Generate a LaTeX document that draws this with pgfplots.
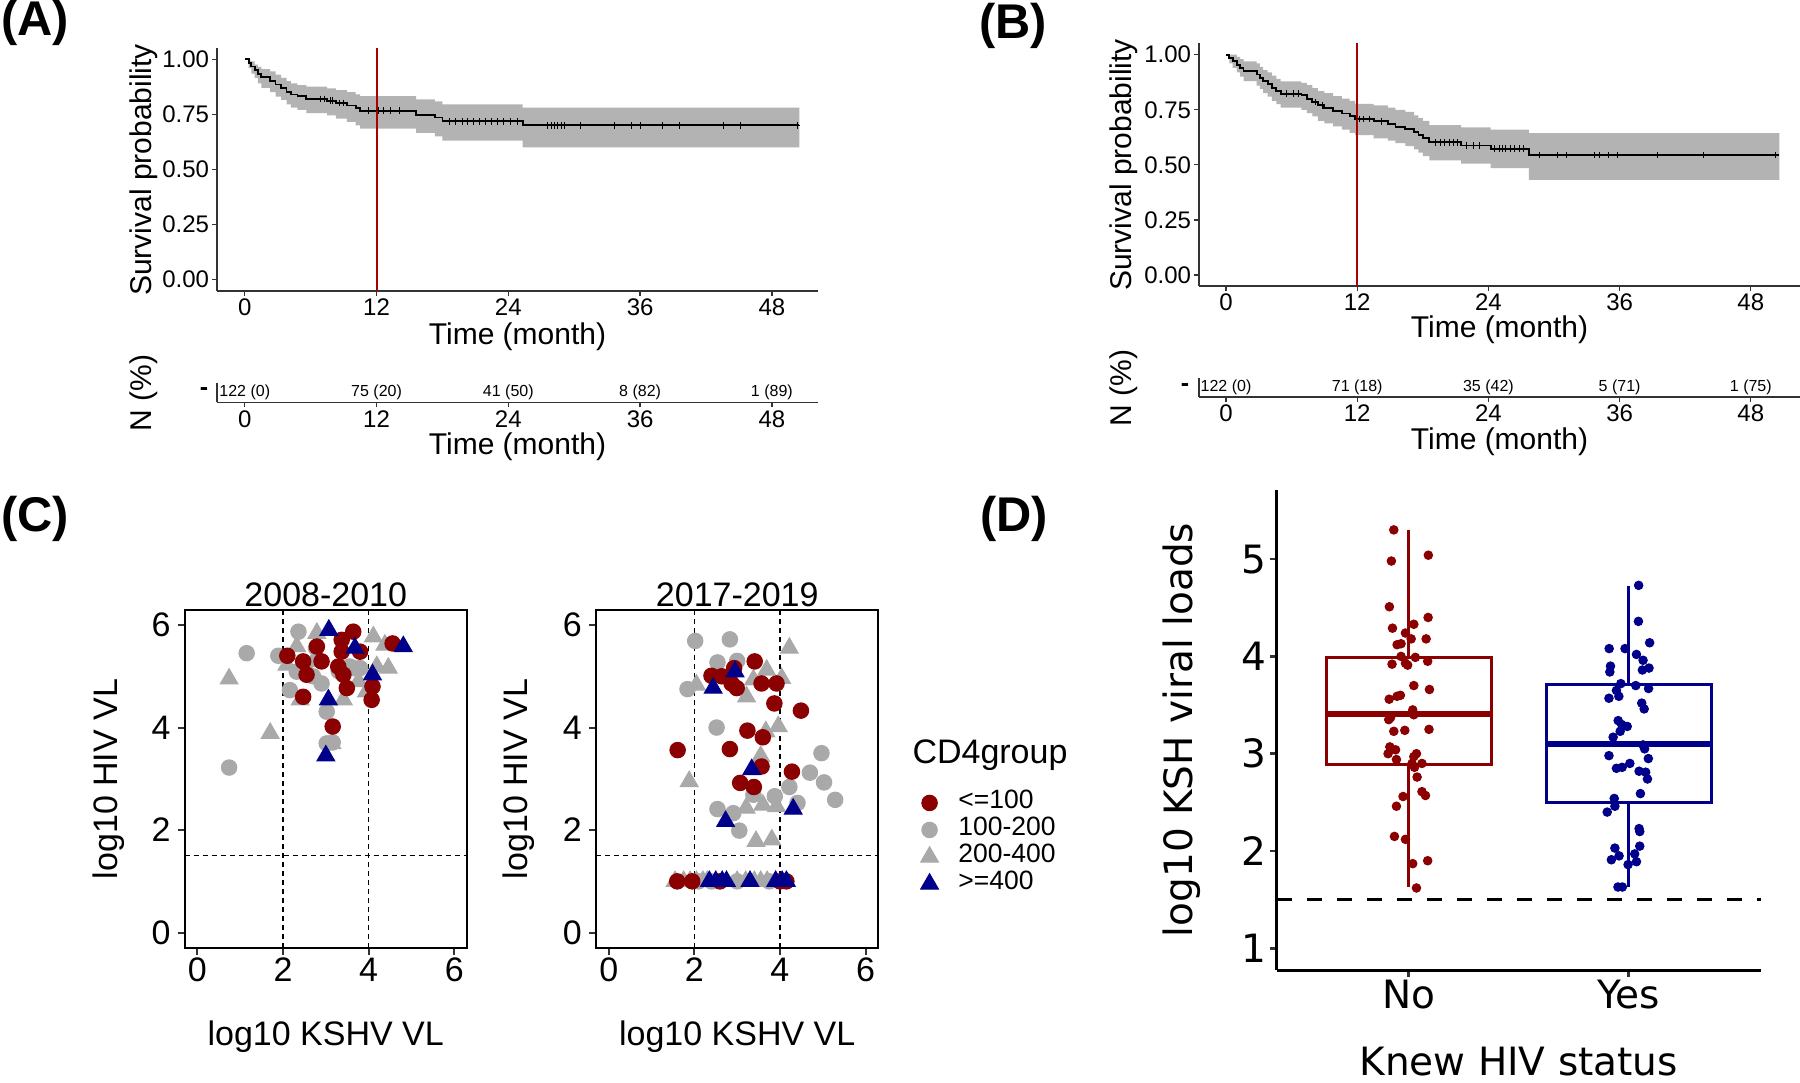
\documentclass[border=0pt]{standalone}
\usepackage{pgfplots}
\pgfplotsset{compat=1.18}
\usepgfplotslibrary{statistics}
\usepackage{fontspec}
\setmainfont{Liberation Sans}
\newfontfamily\dejavu{DejaVu Sans}
\definecolor{kmred}{HTML}{AA0000}
\definecolor{band}{HTML}{B3B3B3}
\definecolor{cred}{HTML}{8B0000}
\definecolor{cgray}{HTML}{A9A9A9}
\definecolor{cblue}{HTML}{00008B}
\definecolor{axgray}{HTML}{333333}
\newcommand{\fs}[1]{\fontsize{#1}{#1}\selectfont}
\pgfplotsset{
  kmaxis/.style={scale only axis, width=240.4pt, height=97.2pt,
    axis lines=left, axis line style={-, axgray, line width=0.5pt},
    tick style={axgray, line width=0.5pt}, tick align=outside, major tick length=2pt,
    xtick={0,12,24,36,48}, xticklabels={0,12,24,36,48},
    ytick={0,0.25,0.5,0.75,1}, yticklabels={0.00,0.25,0.50,0.75,1.00},
    ticklabel style={font=\fs{9.6}, inner sep=1pt}, clip=false},
  riskaxis/.style={scale only axis, width=240.4pt, height=7.7pt,
    axis lines=left, axis line style={-, axgray, line width=0.5pt},
    tick style={axgray, line width=0.5pt}, tick align=outside, major tick length=2pt,
    xtick={0,12,24,36,48}, xticklabels={0,12,24,36,48}, ytick=\empty,
    ymin=0, ymax=1,
    ticklabel style={font=\fs{9.6}, inner sep=1pt}, clip=false},
  cfacet/.style={scale only axis, width=113pt, height=135.36pt,
    xmin=-0.3, xmax=6.3, ymin=-0.3, ymax=6.3,
    axis line style={line width=0.8pt},
    xtick={0,2,4,6}, xticklabels={0,2,4,6}, ytick={0,2,4,6}, yticklabels={0,2,4,6},
    xtick pos=bottom, ytick pos=left,
    tick style={axgray, line width=0.8pt}, tick align=outside, major tick length=2.8pt,
    xticklabel style={font=\fs{13.6}, inner sep=1pt},
    yticklabel style={font=\fs{13.6}, inner sep=2.6pt}},
  pr/.style={only marks, mark=*, color=cred, mark size=3.1pt, mark options={draw=none, fill=cred}},
  pgc/.style={only marks, mark=*, color=cgray, mark size=3.1pt, mark options={draw=none, fill=cgray}},
  pgt/.style={only marks, mark=triangle*, color=cgray, mark size=4.1pt, mark options={draw=none, fill=cgray}},
  pbt/.style={only marks, mark=triangle*, color=cblue, mark size=4.1pt, mark options={draw=none, fill=cblue}},
}
\begin{document}
\begin{tikzpicture}

% ================= Panel A =================
\node[font=\fs{19.5}\bfseries, inner sep=0pt] at (14pt,-9.2pt) {(A)};
\begin{axis}[kmaxis, at={(86.8pt,-116.4pt)}, anchor=south west,
  xmin=-2.53, xmax=52.2, ymin=-0.053, ymax=1.051]
\addplot[fill=band, draw=none] coordinates {
(0,1.0) (0.5,1.0) (0.5,0.99) (0.9,0.99) (0.9,0.975) (1.2,0.975) (1.2,0.965) (1.5,0.965) (1.5,0.955) (2.3,0.955) (2.3,0.945) (2.8,0.945) (2.8,0.93) (3.3,0.93) (3.3,0.915) (3.8,0.915) (3.8,0.90) (4.2,0.90) (4.2,0.89) (4.8,0.89) (4.8,0.882) (5.6,0.882) (5.6,0.875) (7.5,0.875) (7.5,0.868) (8.3,0.868) (8.3,0.86) (9.3,0.86) (9.3,0.85) (10.1,0.85) (10.1,0.84) (10.5,0.84) (10.5,0.832) (15.6,0.832) (15.6,0.818) (17.3,0.818) (17.3,0.808) (18,0.808) (18,0.795) (25.3,0.795) (25.3,0.78) (50.5,0.78)
(50.5,0.60) (25.3,0.60) (25.3,0.63) (18,0.63) (18,0.65) (17.3,0.65) (17.3,0.665) (15.6,0.665) (15.6,0.685) (10.5,0.685) (10.5,0.70) (10.1,0.70) (10.1,0.715) (9.3,0.715) (9.3,0.73) (8.3,0.73) (8.3,0.745) (7.5,0.745) (7.5,0.755) (5.6,0.755) (5.6,0.77) (4.8,0.77) (4.8,0.78) (4.2,0.78) (4.2,0.795) (3.8,0.795) (3.8,0.815) (3.3,0.815) (3.3,0.83) (2.8,0.83) (2.8,0.85) (2.3,0.85) (2.3,0.87) (1.5,0.87) (1.5,0.89) (1.2,0.89) (1.2,0.915) (0.9,0.915) (0.9,0.935) (0.6,0.935) (0.6,0.96) (0.35,0.96) (0.35,1.0) (0,1.0)} -- cycle;
\addplot[const plot, black, line width=0.75pt] coordinates {
(0,1.0) (0.35,0.984) (0.6,0.967) (0.9,0.951) (1.2,0.934) (1.5,0.918) (2.3,0.90) (2.8,0.885) (3.3,0.869) (3.8,0.852) (4.2,0.84) (4.8,0.832) (5.6,0.82) (7.5,0.812) (8.3,0.80) (9.3,0.79) (10.1,0.778) (10.5,0.766) (15.6,0.748) (17.3,0.735) (18,0.718) (25.3,0.70) (50.5,0.70)};
\addplot[only marks, mark=+, mark size=1.3pt, black, line width=0.4pt] coordinates {
(6.9,0.82) (7.3,0.82) (7.8,0.812) (8.0,0.812) (8.6,0.80) (9.0,0.80)
(11.3,0.766) (12.2,0.766) (12.6,0.766) (13.3,0.766) (14.1,0.766)
(18.6,0.718) (19.2,0.718) (19.8,0.718) (20.3,0.718) (20.8,0.718) (21.4,0.718) (21.9,0.718) (22.5,0.718) (23.0,0.718) (23.6,0.718) (24.2,0.718) (24.8,0.718)
(27.6,0.70) (27.9,0.70) (28.2,0.70) (28.5,0.70) (28.8,0.70) (29.1,0.70) (30.6,0.70) (33.7,0.70) (35.2,0.70) (36.0,0.70) (38.0,0.70) (39.6,0.70) (43.6,0.70) (45.1,0.70) (50.3,0.70)};
\addplot[kmred, line width=0.8pt] coordinates {(12,-0.053) (12,1.051)};
\end{axis}
\node[font=\fs{12}] at (207pt,-134.8pt) {Time (month)};
\node[font=\fs{12}, rotate=90] at (57.6pt,-68pt) {Survival probability};
\begin{axis}[riskaxis, at={(86.8pt,-160.9pt)}, anchor=south west,
  xmin=-2.53, xmax=52.2]
\addplot[draw=none] coordinates {(0,0.5) (48,0.5)};
\node[font=\fs{6.4}] at (axis cs:0,0.52) {122 (0)};
\node[font=\fs{6.4}] at (axis cs:12,0.52) {75 (20)};
\node[font=\fs{6.4}] at (axis cs:24,0.52) {41 (50)};
\node[font=\fs{6.4}] at (axis cs:36,0.52) {8 (82)};
\node[font=\fs{6.4}] at (axis cs:48,0.52) {1 (89)};
\end{axis}
\node[font=\fs{10}\bfseries] at (81.6pt,-156.6pt) {-};
\node[font=\fs{12}] at (207pt,-178.8pt) {Time (month)};
\node[font=\fs{12}, rotate=90] at (57.6pt,-157.2pt) {N (\%)};

% ================= Panel B =================
\node[font=\fs{19.5}\bfseries, inner sep=0pt] at (405.2pt,-10.4pt) {(B)};
\begin{axis}[kmaxis, at={(479.6pt,-114.4pt)}, anchor=south west,
  xmin=-2.47, xmax=52.5, ymin=-0.05, ymax=1.053]
\addplot[fill=band, draw=none] coordinates {
(0,1.0) (1.0,1.0) (1.0,0.99) (1.3,0.99) (1.3,0.98) (1.6,0.98) (1.6,0.97) (2.8,0.97) (2.8,0.96) (3.1,0.96) (3.1,0.945) (3.4,0.945) (3.4,0.93) (3.8,0.93) (3.8,0.92) (4.2,0.92) (4.2,0.905) (4.6,0.905) (4.6,0.89) (5.0,0.89) (5.0,0.879) (6.9,0.879) (6.9,0.872) (7.4,0.872) (7.4,0.862) (7.9,0.862) (7.9,0.848) (8.4,0.848) (8.4,0.835) (9.0,0.835) (9.0,0.825) (9.8,0.825) (9.8,0.812) (10.6,0.812) (10.6,0.80) (11.3,0.80) (11.3,0.79) (11.8,0.79) (11.8,0.777) (13.5,0.777) (13.5,0.77) (14.8,0.77) (14.8,0.76) (15.5,0.76) (15.5,0.75) (16.4,0.75) (16.4,0.74) (17.2,0.74) (17.2,0.725) (17.6,0.725) (17.6,0.712) (18.0,0.712) (18.0,0.70) (18.6,0.70) (18.6,0.68) (21.5,0.68) (21.5,0.67) (24.2,0.67) (24.2,0.66) (27.7,0.66) (27.7,0.644) (50.6,0.644)
(50.6,0.432) (27.7,0.432) (27.7,0.485) (24.2,0.485) (24.2,0.505) (21.5,0.505) (21.5,0.52) (18.6,0.52) (18.6,0.54) (18.0,0.54) (18.0,0.555) (17.6,0.555) (17.6,0.57) (17.2,0.57) (17.2,0.585) (16.4,0.585) (16.4,0.598) (15.5,0.598) (15.5,0.61) (14.8,0.61) (14.8,0.62) (13.5,0.62) (13.5,0.635) (11.8,0.635) (11.8,0.645) (11.3,0.645) (11.3,0.66) (10.6,0.66) (10.6,0.675) (9.8,0.675) (9.8,0.688) (9.0,0.688) (9.0,0.70) (8.4,0.70) (8.4,0.72) (7.9,0.72) (7.9,0.735) (7.4,0.735) (7.4,0.75) (6.9,0.75) (6.9,0.76) (5.0,0.76) (5.0,0.775) (4.6,0.775) (4.6,0.79) (4.2,0.79) (4.2,0.81) (3.8,0.81) (3.8,0.825) (3.4,0.825) (3.4,0.845) (3.1,0.845) (3.1,0.86) (2.8,0.86) (2.8,0.88) (1.6,0.88) (1.6,0.90) (1.3,0.90) (1.3,0.92) (1.0,0.92) (1.0,0.94) (0.6,0.94) (0.6,0.96) (0.3,0.96) (0.3,1.0) (0,1.0)} -- cycle;
\addplot[const plot, black, line width=0.75pt] coordinates {
(0,1.0) (0.3,0.985) (0.6,0.97) (1.0,0.955) (1.3,0.94) (1.6,0.924) (2.8,0.91) (3.1,0.895) (3.4,0.88) (3.8,0.865) (4.2,0.85) (4.6,0.835) (5.0,0.823) (6.9,0.815) (7.4,0.80) (7.9,0.785) (8.4,0.77) (9.0,0.758) (9.8,0.745) (10.6,0.733) (11.3,0.72) (11.8,0.709) (13.5,0.697) (14.8,0.686) (15.5,0.673) (16.4,0.663) (17.2,0.648) (17.6,0.635) (18.0,0.62) (18.6,0.602) (21.5,0.588) (24.2,0.573) (27.7,0.545) (50.6,0.545)};
\addplot[only marks, mark=+, mark size=1.3pt, black, line width=0.4pt] coordinates {
(5.5,0.823) (6.2,0.823) (6.6,0.823) (8.2,0.785) (8.8,0.77)
(12.2,0.709) (12.6,0.709) (13.1,0.709) (14.2,0.697)
(19.2,0.602) (19.6,0.602) (20.0,0.602) (20.4,0.602) (20.8,0.602) (21.2,0.602)
(22.0,0.588) (22.6,0.588) (23.2,0.588)
(24.6,0.573) (25.0,0.573) (25.3,0.573) (25.6,0.573) (26.0,0.573) (26.4,0.573) (26.8,0.573) (27.2,0.573)
(28.7,0.545) (30.3,0.545) (31.1,0.545) (33.7,0.545) (34.2,0.545) (35.0,0.545) (35.8,0.545) (39.5,0.545) (43.7,0.545) (50.3,0.545)};
\addplot[kmred, line width=0.8pt] coordinates {(12,-0.05) (12,1.053)};
\end{axis}
\node[font=\fs{12}] at (599.8pt,-132pt) {Time (month)};
\node[font=\fs{12}, rotate=90] at (449.6pt,-66pt) {Survival probability};
\begin{axis}[riskaxis, at={(479.6pt,-158.8pt)}, anchor=south west,
  xmin=-2.47, xmax=52.5]
\addplot[draw=none] coordinates {(0,0.5) (48,0.5)};
\node[font=\fs{6.4}] at (axis cs:0,0.52) {122 (0)};
\node[font=\fs{6.4}] at (axis cs:12,0.52) {71 (18)};
\node[font=\fs{6.4}] at (axis cs:24,0.52) {35 (42)};
\node[font=\fs{6.4}] at (axis cs:36,0.52) {5 (71)};
\node[font=\fs{6.4}] at (axis cs:48,0.52) {1 (75)};
\end{axis}
\node[font=\fs{10}\bfseries] at (474pt,-155pt) {-};
\node[font=\fs{12}] at (599.8pt,-176.8pt) {Time (month)};
\node[font=\fs{12}, rotate=90] at (449.6pt,-155.2pt) {N (\%)};

% ================= Panel C =================
\node[font=\fs{19.5}\bfseries, inner sep=0pt] at (14pt,-207.6pt) {(C)};
\begin{axis}[cfacet, at={(73.84pt,-379.2pt)}, anchor=south west]
\addplot[black, line width=0.5pt, dash pattern=on 2pt off 1.6pt] coordinates {(2,-0.3) (2,6.3)};
\addplot[black, line width=0.5pt, dash pattern=on 2pt off 1.6pt] coordinates {(4,-0.3) (4,6.3)};
\addplot[black, line width=0.5pt, dash pattern=on 2pt off 1.6pt] coordinates {(-0.3,1.5) (6.3,1.5)};
\addplot[pgt] coordinates {(0.74,4.95) (1.70,3.89) (2.09,5.22) (2.40,4.54) (2.79,5.84) (2.32,5.58) (2.71,5.29) (2.55,5.16) (3.41,4.54) (3.76,4.90) (3.95,4.70) (4.11,5.77) (4.38,5.61) (4.46,5.16) (4.19,5.19) (3.14,3.69)};
\addplot[pgc] coordinates {(1.15,5.45) (0.74,3.22) (2.36,5.87) (1.89,5.40) (2.16,4.73) (2.90,4.86) (3.02,4.31) (3.02,3.69) (3.16,3.71) (2.77,5.55) (3.64,5.16) (3.80,5.16) (3.56,5.19) (2.32,5.09) (2.70,5.00) (3.30,5.10)};
\addplot[pr] coordinates {(2.10,5.40) (2.47,5.29) (2.55,5.03) (2.79,5.58) (2.90,5.29) (3.29,5.19) (3.37,5.71) (3.64,5.87) (3.49,4.77) (3.16,4.02) (4.09,4.80) (4.07,4.54) (4.56,5.64) (3.37,5.48) (3.41,5.03) (3.80,5.48) (2.47,4.60)};
\addplot[pbt] coordinates {(3.07,5.90) (3.68,5.55) (4.81,5.58) (4.09,5.03) (3.06,4.54) (3.00,3.45)};
\end{axis}
\node[font=\fs{13.6}] at (130.3pt,-238pt) {2008-2010};
\node[font=\fs{13.6}, rotate=90] at (43.6pt,-311.6pt) {log10 HIV VL};
\node[font=\fs{13.6}] at (130.3pt,-414.8pt) {log10 KSHV VL};

\begin{axis}[cfacet, at={(238.36pt,-379.2pt)}, anchor=south west,
  legend cell align=left,
  legend style={draw=none, fill=none, at={(1.148,0.47)}, anchor=north west,
    font=\fs{10.6}, inner sep=0pt, row sep=0pt,
    /tikz/every odd column/.append style={column sep=8pt},
    nodes={inner sep=0pt, text height=7.8pt, text depth=3pt}},
  legend image code/.code={\draw[#1] plot coordinates {(0pt,0pt)};}]
\addlegendimage{pr}\addlegendentry{<=100}
\addlegendimage{pgc}\addlegendentry{100-200}
\addlegendimage{pgt}\addlegendentry{200-400}
\addlegendimage{pbt}\addlegendentry{>=400}
\addplot[black, line width=0.5pt, dash pattern=on 2pt off 1.6pt, forget plot] coordinates {(2,-0.3) (2,6.3)};
\addplot[black, line width=0.5pt, dash pattern=on 2pt off 1.6pt, forget plot] coordinates {(4,-0.3) (4,6.3)};
\addplot[black, line width=0.5pt, dash pattern=on 2pt off 1.6pt, forget plot] coordinates {(-0.3,1.5) (6.3,1.5)};
\addplot[pgt, forget plot] coordinates {(4.22,5.55) (3.69,5.12) (4.04,4.96) (3.38,4.93) (3.22,4.60) (2.05,4.83) (3.67,3.92) (3.96,4.02) (3.55,3.44) (1.88,2.95) (3.21,2.43) (3.60,2.49) (3.92,2.46) (3.44,1.78) (3.81,1.81)
(1.55,1) (1.75,1) (1.9,1) (2.05,1) (2.2,1) (2.3,1) (3.0,1) (3.2,1) (3.4,1) (3.55,1) (3.7,1) (3.9,1)};
\addplot[pgc, forget plot] coordinates {(2.02,5.69) (2.83,5.72) (2.54,5.27) (3.00,5.30) (1.84,4.75) (2.52,4.00) (4.97,3.50) (4.70,3.12) (5.03,2.93) (4.22,2.84) (3.38,2.69) (3.88,2.66) (5.29,2.59) (4.41,2.53) (2.54,2.41) (2.91,2.33) (3.05,1.99)
(2.1,1) (2.4,1) (3.0,1) (3.75,1)};
\addplot[pr, forget plot] coordinates {(3.41,5.29) (2.40,5.01) (2.64,5.00) (2.93,5.16) (2.87,4.86) (2.99,4.77) (3.57,4.86) (3.92,4.86) (3.87,4.47) (4.49,4.33) (3.24,3.94) (3.60,3.81) (1.61,3.56) (2.83,3.58) (4.28,3.14) (3.57,3.24) (3.07,2.92) (3.39,2.84)
(1.6,1) (1.95,1) (2.6,1) (4.0,1) (4.15,1)};
\addplot[pbt, forget plot] coordinates {(2.44,4.77) (2.95,5.09) (3.34,3.18) (2.73,2.17) (4.31,2.41)
(2.35,1) (2.5,1) (2.65,1) (2.75,1) (3.3,1) (3.9,1) (4.05,1) (4.15,1)};
\end{axis}
\node[font=\fs{13.6}] at (294.9pt,-238pt) {2017-2019};
\node[font=\fs{13.6}, rotate=90] at (207.6pt,-311.6pt) {log10 HIV VL};
\node[font=\fs{13.6}] at (294.9pt,-414.8pt) {log10 KSHV VL};
\node[font=\fs{13.6}, anchor=west, inner sep=0pt] at (364.8pt,-302pt) {CD4group};

% ================= Panel D =================
\node[font=\fs{19.5}\bfseries, inner sep=0pt] at (405.6pt,-207.6pt) {(D)};
\begin{axis}[scale only axis, width=193.6pt, height=192pt,
  at={(510.7pt,-388pt)}, anchor=south west,
  xmin=0.4, xmax=2.6, ymin=0.777, ymax=5.71,
  boxplot/draw direction=y,
  axis lines=left, axis line style={-, black, line width=1.2pt},
  xtick={1,2}, xticklabels={No,Yes}, ytick={1,2,3,4,5}, yticklabels={1,2,3,4,5},
  tick style={axgray, line width=1.1pt}, tick align=outside, major tick length=2.8pt,
  ticklabel style={font=\dejavu\fs{15.6}, inner sep=1pt}, clip=false]
\addplot[black, line width=1.2pt, dash pattern=on 6pt off 6pt] coordinates {(0.4,1.5) (2.6,1.5)};
\addplot[cred, line width=1.2pt, fill=white, boxplot/whisker extend=0,
  boxplot/every median/.style={line width=2.4pt},
  boxplot prepared={draw position=1, lower whisker=1.63, lower quartile=2.89, median=3.41, upper quartile=3.99, upper whisker=5.30, box extend=0.75}] coordinates {};
\addplot[cblue, line width=1.2pt, fill=white, boxplot/whisker extend=0,
  boxplot/every median/.style={line width=2.4pt},
  boxplot prepared={draw position=2, lower whisker=1.63, lower quartile=2.50, median=3.10, upper quartile=3.71, upper whisker=4.72, box extend=0.75}] coordinates {};
\addplot[only marks, mark=*, mark size=1.7pt, cred, mark options={draw=none, fill=cred}] coordinates {
(0.932,5.30) (0.921,4.98) (1.089,5.04) (0.912,4.51) (1.088,4.40) (0.926,4.29) (1.023,4.33) (0.985,4.24) (1.011,4.18) (1.079,4.18)
(0.947,4.12) (0.965,4.13) (0.965,4.00) (1.030,3.99) (0.924,3.92) (0.985,3.93) (0.995,3.91) (1.086,3.95) (1.023,3.70) (1.094,3.66)
(0.911,3.56) (0.947,3.59) (0.962,3.60) (1.018,3.45) (1.023,3.40) (0.909,3.35) (0.917,3.37) (0.932,3.23) (0.982,3.24) (1.092,3.25)
(0.914,3.07) (0.940,3.04) (0.906,3.00) (0.944,2.94) (1.023,2.97) (1.035,3.00) (1.015,2.90) (1.060,2.90) (1.026,2.86) (1.038,2.76)
(0.974,2.56) (1.060,2.61) (1.076,2.57) (0.944,2.46) (0.935,2.15) (0.985,2.12) (1.018,1.87) (1.086,1.90) (1.035,1.62)};
\addplot[only marks, mark=*, mark size=1.7pt, cblue, mark options={draw=none, fill=cblue}] coordinates {
(2.045,4.73) (2.044,4.36) (2.095,4.14) (1.911,4.08) (1.983,4.08) (2.035,4.02) (2.065,3.96) (1.917,3.90) (2.092,3.88) (1.914,3.84)
(2.062,3.86) (1.964,3.72) (2.032,3.70) (2.090,3.67) (1.944,3.65) (1.910,3.57) (1.955,3.59) (2.059,3.52) (2.070,3.46) (1.952,3.34)
(1.968,3.30) (1.993,3.28) (1.961,3.23) (1.929,3.17) (2.065,3.09) (2.072,3.05) (1.910,2.98) (2.089,2.95) (2.005,2.90) (1.944,2.85)
(1.970,2.86) (2.047,2.82) (2.077,2.81) (2.085,2.74) (2.053,2.59) (1.934,2.54) (1.937,2.46) (1.902,2.40) (2.047,2.23) (2.050,2.20)
(2.050,2.05) (1.937,2.03) (1.956,1.95) (1.921,1.91) (2.027,1.97) (2.035,1.89) (1.997,1.86) (1.951,1.63) (1.971,1.63)};
\end{axis}
\node[font=\dejavu\fs{15.6}, rotate=90] at (472.8pt,-292pt) {log10 KSH viral loads};
\node[font=\dejavu\fs{15.6}] at (607.5pt,-424.8pt) {Knew HIV status};

\pgfresetboundingbox
\useasboundingbox (0pt,0pt) rectangle (720pt,-433.2pt);
\end{tikzpicture}
\end{document}
